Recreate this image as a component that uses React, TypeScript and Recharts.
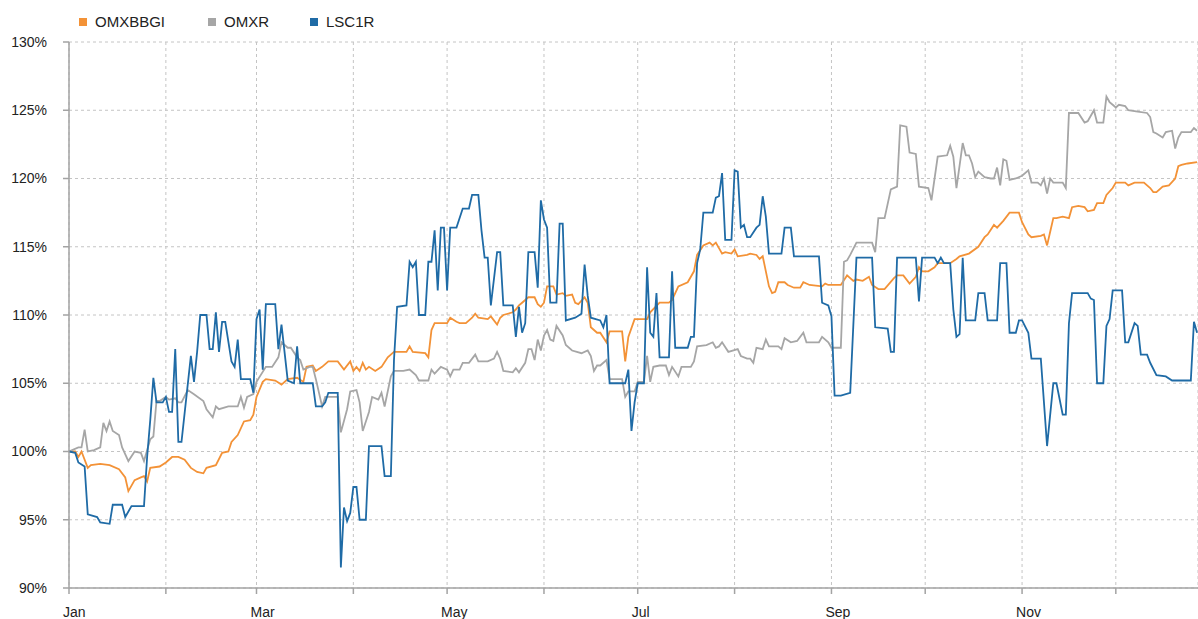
import React from 'react';
import { LineChart, Line, XAxis, YAxis, CartesianGrid } from 'recharts';

// Day-of-year positions (leap year) of month starts
const monthTicks = [0, 31, 60, 91, 121, 152, 182, 213, 244, 274, 305, 335];
const monthLabels = ['Jan', 'Feb', 'Mar', 'Apr', 'May', 'Jun', 'Jul', 'Aug', 'Sep', 'Oct', 'Nov', 'Dec'];
const shownMonths = ['Jan', 'Mar', 'May', 'Jul', 'Sep', 'Nov'];
const yTicks = [90, 95, 100, 105, 110, 115, 120, 125, 130];

const seriesNames = ['OMXBBGI', 'OMXR', 'LSC1R'];
const seriesColors = ['#F39237', '#A6A6A6', '#1F6BA6'];

// OMXBBGI (orange)
const omxbbgiDays = [0, 2, 3, 4, 6, 7, 10, 13, 16, 18, 19, 21, 23, 24, 25, 26, 29, 31, 33, 35, 37, 39, 41, 43, 44, 47, 49, 51, 52, 54, 56, 58, 59, 60, 62, 63, 66, 68, 70, 73, 75, 76, 78, 79, 81, 83, 86, 88, 90, 91, 92, 93, 94, 95, 96, 98, 100, 102, 104, 108, 109, 110, 114, 115, 116, 117, 121, 122, 124, 125, 127, 129, 130, 131, 134, 135, 137, 138, 139, 142, 143, 144, 145, 147, 149, 150, 151, 152, 153, 155, 156, 158, 159, 161, 162, 163, 165, 166, 167, 169, 170, 172, 173, 177, 178, 179, 181, 185, 186, 189, 192, 193, 195, 198, 200, 201, 203, 205, 206, 207, 208, 209, 210, 212, 213, 214, 217, 218, 220, 221, 222, 224, 225, 226, 227, 229, 230, 232, 234, 235, 237, 241, 242, 243, 247, 249, 251, 252, 254, 256, 257, 259, 261, 264, 265, 267, 269, 271, 272, 273, 275, 277, 278, 280, 282, 284, 285, 288, 291, 293, 294, 296, 297, 299, 301, 302, 304, 305, 307, 308, 311, 312, 313, 314, 315, 316, 318, 320, 321, 323, 325, 326, 328, 329, 331, 332, 334, 335, 338, 339, 341, 343, 344, 346, 347, 348, 350, 352, 354, 355, 356, 358, 361];
const omxbbgiValues = [100.0, 100.0, 99.6, 100.0, 98.8, 99.0, 99.1, 99.0, 98.7, 98.1, 97.1, 97.9, 98.1, 98.2, 97.8, 98.8, 98.9, 99.2, 99.6, 99.6, 99.4, 98.8, 98.5, 98.4, 98.8, 99.0, 99.9, 100.0, 100.7, 101.2, 102.2, 102.3, 102.7, 104.0, 105.1, 105.3, 105.2, 104.9, 105.3, 105.4, 105.1, 106.2, 106.3, 105.9, 106.2, 106.6, 106.6, 106.0, 106.6, 105.9, 106.2, 105.9, 106.5, 106.0, 106.2, 105.9, 106.2, 106.9, 107.3, 107.3, 107.7, 107.3, 107.2, 106.9, 108.9, 109.4, 109.4, 109.8, 109.5, 109.4, 109.4, 109.8, 110.1, 109.8, 109.7, 109.9, 109.3, 109.8, 110.0, 110.2, 110.4, 110.7, 110.9, 111.3, 111.3, 110.8, 110.6, 110.9, 112.1, 112.1, 111.5, 111.6, 111.4, 111.5, 110.9, 110.8, 111.3, 110.9, 109.1, 108.7, 108.7, 108.0, 108.8, 108.8, 106.6, 108.4, 109.7, 109.7, 110.2, 110.9, 110.9, 111.1, 112.1, 112.4, 113.2, 114.4, 115.1, 115.3, 115.1, 115.3, 114.9, 114.5, 114.6, 114.5, 114.8, 114.3, 114.4, 114.5, 114.4, 114.1, 114.3, 112.1, 111.6, 111.7, 112.4, 112.4, 112.2, 112.0, 112.0, 112.4, 112.2, 112.1, 112.3, 112.2, 112.2, 112.9, 112.5, 112.6, 112.5, 112.8, 112.2, 111.9, 111.9, 112.7, 112.9, 112.9, 112.3, 112.8, 113.5, 113.2, 113.2, 113.5, 113.8, 113.8, 113.8, 114.1, 114.3, 114.5, 115.0, 115.7, 115.9, 116.6, 116.4, 116.9, 117.5, 117.5, 117.5, 116.8, 115.9, 115.7, 115.8, 115.9, 115.1, 116.1, 117.1, 117.1, 117.2, 117.1, 117.9, 118.0, 117.9, 117.6, 117.7, 118.2, 118.2, 118.8, 119.3, 119.7, 119.7, 119.5, 119.7, 119.7, 119.7, 119.3, 119.0, 119.0, 119.4, 119.5, 120.0, 120.9, 121.0, 121.1, 121.2];

// OMXR (gray)
const omxrDays = [0, 3, 4, 5, 6, 8, 10, 11, 12, 13, 14, 16, 17, 19, 21, 23, 24, 26, 27, 28, 29, 31, 32, 34, 35, 36, 38, 40, 43, 44, 46, 47, 48, 51, 54, 55, 56, 57, 59, 60, 63, 65, 67, 68, 70, 71, 73, 74, 75, 77, 78, 79, 81, 82, 86, 87, 89, 90, 92, 93, 94, 96, 97, 99, 100, 101, 103, 104, 107, 109, 111, 112, 115, 116, 117, 119, 121, 122, 123, 125, 126, 128, 130, 131, 134, 136, 137, 138, 139, 142, 143, 144, 146, 147, 148, 149, 150, 151, 152, 153, 154, 155, 156, 158, 159, 161, 164, 166, 167, 168, 169, 170, 172, 173, 177, 178, 179, 181, 182, 184, 185, 186, 187, 189, 191, 192, 193, 195, 196, 199, 200, 201, 204, 206, 207, 208, 209, 211, 214, 215, 217, 218, 219, 220, 222, 223, 224, 227, 228, 229, 231, 233, 235, 236, 240, 241, 243, 244, 247, 248, 249, 250, 252, 255, 257, 258, 259, 261, 263, 265, 266, 268, 269, 271, 272, 275, 276, 278, 281, 282, 283, 284, 286, 287, 288, 289, 290, 291, 293, 295, 296, 297, 298, 299, 300, 301, 303, 305, 307, 308, 310, 311, 312, 313, 314, 315, 318, 319, 320, 323, 325, 326, 328, 329, 331, 332, 333, 334, 335, 336, 338, 339, 342, 345, 346, 347, 348, 350, 351, 353, 354, 355, 356, 359, 360, 361];
const omxrValues = [100.0, 100.3, 100.3, 101.6, 100.0, 100.1, 100.3, 102.1, 101.5, 102.2, 101.5, 101.2, 100.3, 99.3, 100.0, 99.9, 99.3, 100.9, 101.1, 103.7, 103.7, 104.0, 103.8, 103.9, 103.6, 103.6, 104.5, 104.2, 103.7, 103.1, 102.5, 103.3, 103.1, 103.3, 103.3, 104.0, 103.2, 104.0, 104.2, 105.1, 106.2, 106.2, 106.9, 108.0, 107.6, 107.6, 106.9, 106.7, 106.0, 106.2, 106.2, 105.3, 103.3, 104.0, 104.0, 101.4, 103.1, 104.4, 104.5, 103.6, 101.5, 102.9, 104.0, 103.8, 104.3, 103.3, 105.5, 105.9, 105.9, 106.0, 105.6, 105.2, 105.2, 106.0, 105.7, 106.2, 106.0, 105.5, 106.0, 106.0, 106.5, 106.5, 107.1, 106.6, 106.6, 106.8, 107.3, 106.8, 105.9, 105.8, 106.1, 105.8, 106.5, 107.5, 107.5, 106.7, 108.2, 107.4, 108.5, 108.9, 108.2, 108.1, 109.2, 108.5, 107.8, 107.4, 107.2, 107.4, 107.0, 105.9, 106.3, 106.3, 106.7, 105.3, 105.3, 104.0, 104.4, 104.4, 105.1, 105.1, 107.0, 105.1, 106.2, 106.3, 106.3, 105.6, 106.2, 105.5, 106.2, 106.2, 106.6, 107.7, 107.8, 108.0, 107.6, 107.7, 108.0, 107.3, 107.5, 107.0, 106.8, 106.8, 106.5, 107.6, 107.5, 108.2, 107.7, 107.7, 107.5, 108.3, 108.0, 108.1, 108.7, 108.0, 108.0, 108.4, 108.0, 107.6, 107.6, 113.9, 114.0, 114.4, 115.3, 115.3, 115.3, 114.6, 117.1, 117.1, 119.2, 119.4, 123.9, 123.8, 121.9, 121.8, 119.4, 119.3, 118.4, 121.6, 121.7, 122.4, 121.6, 119.3, 122.6, 121.7, 121.7, 121.1, 120.1, 120.5, 120.1, 120.0, 120.0, 120.8, 119.5, 121.4, 121.3, 119.9, 120.0, 120.2, 120.6, 119.7, 119.7, 119.5, 120.0, 118.9, 120.0, 119.7, 119.7, 119.3, 124.8, 124.8, 124.1, 124.2, 125.0, 124.1, 124.1, 126.0, 125.6, 125.4, 125.2, 125.4, 125.3, 125.0, 124.9, 124.8, 124.5, 123.4, 123.3, 123.0, 123.4, 123.5, 122.2, 123.0, 123.4, 123.4, 123.7, 123.5];

// LSC1R (blue)
const lsc1rDays = [0, 2, 3, 5, 6, 9, 10, 13, 14, 17, 18, 20, 24, 25, 26, 27, 28, 30, 31, 32, 33, 34, 35, 36, 39, 40, 41, 42, 44, 45, 46, 47, 48, 49, 50, 52, 53, 54, 55, 58, 59, 60, 61, 62, 63, 66, 67, 68, 70, 72, 73, 74, 78, 79, 81, 82, 83, 86, 87, 88, 89, 90, 91, 92, 93, 95, 96, 100, 101, 103, 104, 105, 108, 109, 110, 111, 112, 114, 115, 116, 117, 118, 119, 120, 121, 122, 124, 126, 128, 129, 131, 132, 133, 134, 135, 137, 138, 139, 142, 143, 144, 145, 146, 147, 149, 150, 151, 152, 153, 154, 156, 157, 158, 159, 162, 164, 165, 166, 167, 170, 171, 172, 173, 178, 179, 180, 181, 182, 184, 185, 186, 187, 188, 189, 192, 193, 194, 198, 199, 200, 201, 202, 203, 206, 207, 208, 209, 210, 212, 213, 214, 215, 216, 217, 218, 220, 221, 222, 223, 224, 228, 229, 231, 232, 240, 241, 243, 244, 245, 247, 250, 252, 257, 258, 262, 263, 264, 265, 271, 272, 273, 277, 278, 279, 280, 282, 283, 284, 285, 286, 287, 290, 291, 293, 294, 297, 298, 300, 301, 303, 304, 305, 307, 308, 311, 313, 315, 316, 318, 319, 320, 321, 326, 327, 328, 329, 331, 332, 333, 334, 337, 338, 339, 341, 342, 343, 345, 346, 348, 351, 353, 359, 360, 361];
const lsc1rValues = [100.0, 99.9, 99.2, 98.9, 95.4, 95.2, 94.8, 94.7, 96.1, 96.1, 95.2, 96.0, 96.0, 99.6, 102.3, 105.4, 103.6, 103.6, 104.0, 102.9, 102.9, 107.5, 100.7, 100.7, 107.0, 105.1, 107.3, 110.0, 110.0, 107.5, 107.5, 110.2, 107.3, 109.5, 109.5, 106.6, 106.2, 108.2, 105.3, 105.3, 104.3, 109.7, 110.4, 106.0, 110.8, 110.8, 107.5, 109.3, 105.2, 105.0, 107.7, 105.0, 105.0, 103.3, 103.3, 103.6, 104.3, 104.3, 91.5, 95.9, 94.9, 95.5, 97.4, 97.4, 95.0, 95.0, 100.4, 100.4, 98.2, 98.2, 106.7, 110.6, 110.7, 113.9, 113.5, 113.9, 110.0, 110.0, 113.9, 113.9, 116.2, 111.8, 116.4, 116.4, 111.8, 116.4, 116.4, 117.8, 117.8, 118.8, 118.8, 116.2, 114.2, 114.2, 110.7, 114.6, 114.6, 110.7, 110.7, 108.4, 110.6, 108.7, 109.4, 114.6, 114.6, 112.0, 118.4, 117.0, 116.4, 110.9, 110.9, 116.7, 116.7, 109.6, 109.8, 110.1, 113.7, 111.4, 109.8, 109.6, 109.1, 110.0, 105.0, 105.0, 106.0, 101.5, 103.6, 105.0, 105.0, 113.5, 108.7, 108.4, 111.6, 106.9, 106.9, 113.2, 107.6, 107.6, 108.4, 108.4, 113.8, 114.8, 117.5, 117.5, 118.6, 118.7, 120.4, 115.5, 115.5, 120.6, 120.5, 116.4, 116.6, 115.7, 115.7, 116.4, 116.6, 118.7, 117.2, 114.5, 114.5, 116.4, 116.4, 114.3, 114.3, 110.9, 110.7, 109.9, 104.1, 104.1, 104.3, 114.2, 114.2, 109.1, 109.0, 107.3, 107.3, 114.2, 114.2, 111.0, 114.2, 114.2, 113.8, 114.2, 113.8, 113.8, 110.4, 108.4, 108.6, 114.2, 109.6, 109.6, 111.6, 111.6, 109.6, 109.6, 113.8, 113.8, 108.7, 108.7, 109.6, 109.6, 108.7, 106.8, 106.8, 100.4, 105.0, 105.0, 102.7, 102.7, 109.4, 111.6, 111.6, 111.2, 111.1, 105.0, 105.0, 109.2, 109.7, 111.8, 111.8, 108.0, 108.0, 109.4, 109.2, 107.1, 107.1, 106.5, 105.6, 105.5, 105.2, 105.2, 109.5, 108.7];

const toData = (days: number[], values: number[]) => days.map((d, i) => ({ d, v: values[i] }));

const seriesData = [
  toData(omxbbgiDays, omxbbgiValues),
  toData(omxrDays, omxrValues),
  toData(lsc1rDays, lsc1rValues),
];

const FONT = '"Liberation Sans", Arial, Helvetica, sans-serif';
const AXIS_COLOR = '#a3a3a3';

const XTick = (props: any) => {
  const { x, y, payload } = props;
  const idx = monthTicks.indexOf(payload.value);
  const label = monthLabels[idx];
  if (!label || !shownMonths.includes(label)) return <g />;
  return (
    <text x={x - 6} y={y} dy={21} textAnchor="start" fontSize={14} fill="#222" fontFamily={FONT}>
      {label}
    </text>
  );
};

const legendPos = [
  { sq: 79, tx: 95 },
  { sq: 208, tx: 224 },
  { sq: 310, tx: 326 },
];

export default function App() {
  return (
    <div style={{ position: 'absolute', left: 0, top: 0, width: 1198, height: 619, background: '#fff' }}>
      <LineChart width={1198} height={619} margin={{ top: 42, right: 0, left: 0, bottom: 0 }}>
        <CartesianGrid stroke="#c4c4c4" strokeDasharray="3 3" />
        <XAxis
          dataKey="d"
          type="number"
          domain={[0, 361.3]}
          ticks={monthTicks}
          allowDataOverflow
          height={31}
          tickSize={6}
          tick={<XTick />}
          axisLine={{ stroke: AXIS_COLOR, strokeWidth: 1.5 }}
          tickLine={{ stroke: AXIS_COLOR, strokeWidth: 1.5 }}
          interval={0}
        />
        <YAxis
          type="number"
          domain={[90, 130]}
          ticks={yTicks}
          width={69}
          tickSize={6}
          tickMargin={16}
          interval={0}
          tickFormatter={(v: number) => `${v}%`}
          tick={{ fontSize: 14, fill: '#222', fontFamily: FONT }}
          axisLine={{ stroke: AXIS_COLOR, strokeWidth: 1.5 }}
          tickLine={{ stroke: AXIS_COLOR, strokeWidth: 1.5 }}
        />
        {seriesNames.map((name, i) => (
          <Line
            key={name}
            name={name}
            data={seriesData[i]}
            dataKey="v"
            type="linear"
            stroke={seriesColors[i]}
            strokeWidth={1.8}
            dot={false}
            activeDot={false}
            isAnimationActive={false}
          />
        ))}
      </LineChart>
      {seriesNames.map((name, i) => (
        <React.Fragment key={name}>
          <div
            style={{
              position: 'absolute',
              left: legendPos[i].sq,
              top: 18,
              width: 8,
              height: 8,
              background: seriesColors[i],
            }}
          />
          <div
            style={{
              position: 'absolute',
              left: legendPos[i].tx,
              top: 13,
              fontSize: 15,
              lineHeight: '18px',
              fontFamily: FONT,
              color: '#222',
              whiteSpace: 'nowrap',
            }}
          >
            {name}
          </div>
        </React.Fragment>
      ))}
    </div>
  );
}
